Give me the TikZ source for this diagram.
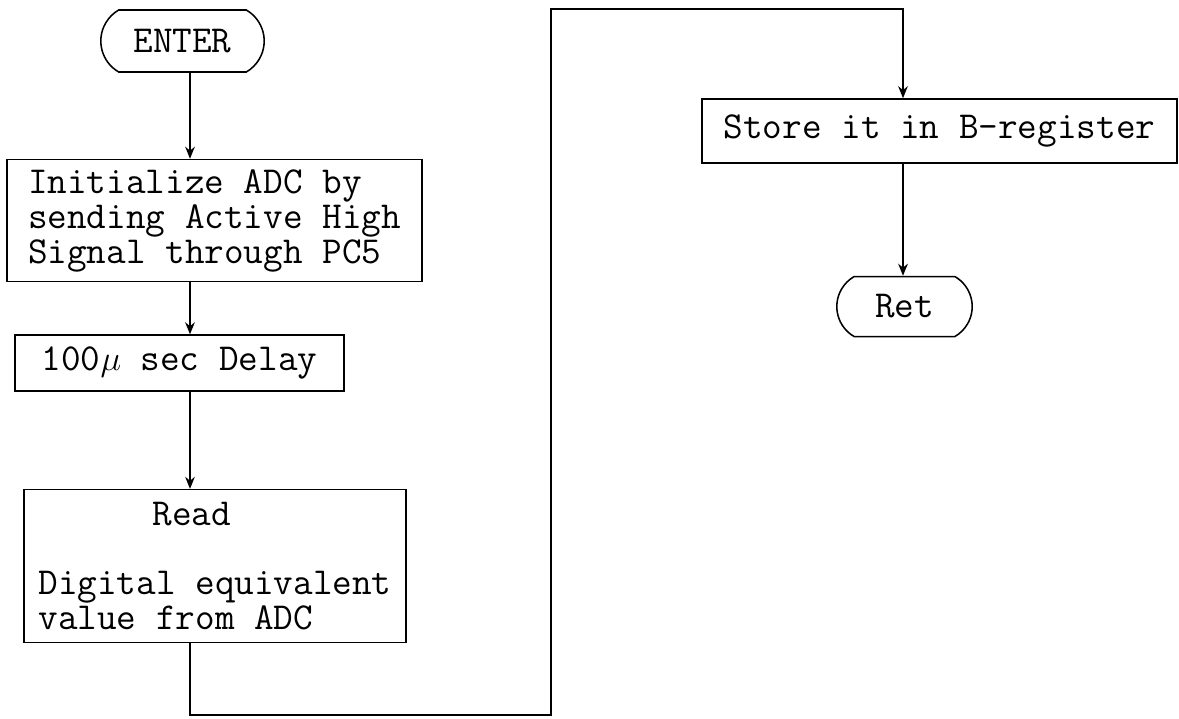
\documentclass[tikz,border=0pt]{standalone}
\usepackage{fontspec}
\usetikzlibrary{arrows.meta,positioning,shapes.misc}
\newcommand{\flowfont}{\ttfamily\fontsize{27.1}{24.9}\selectfont}

\begin{document}
\begin{tikzpicture}[
    box/.style={draw, line width=1.1pt, align=left, inner sep=2pt, font=\flowfont},
    term/.style={draw, line width=1.1pt, rounded rectangle, rounded rectangle arc length=120, inner sep=2pt, font=\flowfont},
    link/.style={-{Stealth[length=3mm, width=2.4mm]}, line width=1.3pt}
]
\useasboundingbox (0,0) rectangle (29.475,-17.95);
\node[term, minimum width=4.225cm, minimum height=1.55cm] (enter) at (4.5625,-1.025) {ENTER};
\node[box, below=2.15cm of enter, xshift=0.8cm, minimum width=10.375cm, minimum height=3.05cm] (init) {Initialize ADC by\\sending Active High\\Signal through PC5};
\node[box, below=1.3cm of init, xshift=-0.875cm, minimum width=8.225cm, minimum height=1.4cm] (delay) {100$\mu$ sec Delay};
\node[box, below=2.425cm of delay, xshift=0.8875cm, minimum width=9.55cm, minimum height=3.825cm] (read) {\hspace*{3em}Read\\[0.85cm]Digital equivalent\\value from ADC};
\node[box, minimum width=11.875cm, minimum height=1.6cm] (store) at (23.4875,-3.275) {Store it in B-register};
\node[term, below=2.8cm of store, xshift=-0.875cm, minimum width=3.525cm, minimum height=1.5cm] (ret) {Ret};
% columns of the connectors
\coordinate (col) at (4.75,0);
\coordinate (rcol) at (22.575,0);
\coordinate (loopbot) at (13.775,-17.875);
\coordinate (looptop) at (13.775,-0.225);
\draw[link] (enter.south -| col) -- (init.north -| col);
\draw[link] (init.south -| col) -- (delay.north -| col);
\draw[link] (delay.south -| col) -- (read.north -| col);
\draw[link] (read.south -| col) |- (loopbot) -- (looptop) -| (store.north -| rcol);
\draw[link] (store.south -| rcol) -- (ret.north -| rcol);
\end{tikzpicture}
\end{document}
